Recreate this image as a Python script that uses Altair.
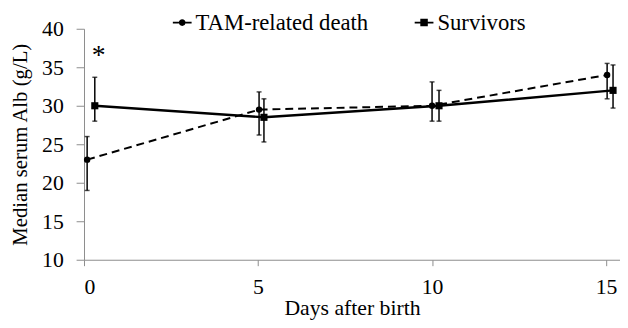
import altair as alt
import pandas as pd

# Data
series_names = ["TAM-related death", "Survivors"]
tam_x = [0.09, 5.03, 10.0, 15.03]
tam_y = [23.0, 29.5, 30.0, 34.0]
tam_lo = [19.0, 26.2, 28.0, 30.9]
tam_hi = [26.0, 31.8, 33.1, 35.5]
surv_x = [0.31, 5.17, 10.2, 15.2]
surv_y = [30.0, 28.5, 30.0, 32.0]
surv_lo = [28.0, 25.3, 28.0, 29.7]
surv_hi = [33.7, 30.9, 32.0, 35.3]
x_ticks = [0, 5, 10, 15]
y_ticks = [10, 15, 20, 25, 30, 35, 40]
star_x = [0.42]
star_y = [36.5]
star_text = ["*"]

FONT = "Liberation Serif, Times New Roman, serif"

rows = []
for name, xs, ys, los, his in [
    (series_names[0], tam_x, tam_y, tam_lo, tam_hi),
    (series_names[1], surv_x, surv_y, surv_lo, surv_hi),
]:
    for x, y, lo, hi in zip(xs, ys, los, his):
        rows.append({"series": name, "day": x, "alb": y, "lo": lo, "hi": hi})
df = pd.DataFrame(rows)
tam_df = df[df.series == series_names[0]]
surv_df = df[df.series == series_names[1]]
star_df = pd.DataFrame({"day": star_x, "alb": star_y, "t": star_text})

xscale = alt.Scale(domain=[0, 15.4], nice=False, zero=False)
yscale = alt.Scale(domain=[10, 40], nice=False, zero=False)

xax = alt.Axis(values=x_ticks, title="Days after birth", grid=False, labelOverlap=False,
               domainColor="#8c8c8c", tickColor="#8c8c8c", tickSize=6,
               labelFont=FONT, labelFontSize=22, labelColor="black", labelPadding=11,
               titleFont=FONT, titleFontSize=22, titleFontWeight="normal",
               titleColor="black", titlePadding=0)
yax = alt.Axis(values=y_ticks, title="Median serum Alb (g/L)", grid=False, labelOverlap=False,
               domainColor="#8c8c8c", tickColor="#8c8c8c", tickSize=8,
               labelFont=FONT, labelFontSize=22, labelColor="black", labelPadding=13,
               titleFont=FONT, titleFontSize=21, titleFontWeight="normal",
               titleColor="black", titlePadding=11)


def X(field):
    return alt.X(f"{field}:Q", scale=xscale, axis=xax)


def Y(field):
    return alt.Y(f"{field}:Q", scale=yscale, axis=yax)


tam_line = alt.Chart(tam_df).mark_line(color="black", strokeWidth=2, strokeDash=[8, 5]).encode(
    x=X("day"), y=Y("alb"))
surv_line = alt.Chart(surv_df).mark_line(color="black", strokeWidth=2.5).encode(
    x=X("day"), y=Y("alb"))

err_rule = alt.Chart(df).mark_rule(color="black", strokeWidth=1.5).encode(
    x=X("day"), y=Y("lo"), y2="hi:Q")
cap_lo = alt.Chart(df).mark_tick(color="black", orient="horizontal", size=5, thickness=1.5).encode(
    x=X("day"), y=Y("lo"))
cap_hi = alt.Chart(df).mark_tick(color="black", orient="horizontal", size=5, thickness=1.5).encode(
    x=X("day"), y=Y("hi"))

tam_pts = alt.Chart(tam_df).mark_point(shape="circle", filled=True, color="black", size=42, opacity=1).encode(
    x=X("day"), y=Y("alb"))
surv_pts = alt.Chart(surv_df).mark_point(shape="square", filled=True, color="black", size=52, opacity=1).encode(
    x=X("day"), y=Y("alb"))

star = alt.Chart(star_df).mark_text(font=FONT, fontSize=28, color="black", baseline="middle").encode(
    x=X("day"), y=Y("alb"), text="t:N")

# legend glyphs: short line segments on both sides of the marker (filled shapes)
circle_path = ("M-1,-0.1H-0.35V0.1H-1Z M0.35,-0.1H1V0.1H0.35Z "
               "M-0.36,0A0.36,0.36 0 1,0 0.36,0A0.36,0.36 0 1,0 -0.36,0Z")
square_path = ("M-1,-0.1H-0.4V0.1H-1Z M0.4,-0.1H1V0.1H0.4Z "
               "M-0.4,-0.4H0.4V0.4H-0.4Z")

legend_layer = alt.Chart(df).transform_filter("false").mark_point(
    filled=True, fill="black", opacity=1).encode(
    x=X("day"), y=Y("alb"),
    shape=alt.Shape("series:N",
                    scale=alt.Scale(domain=series_names, range=[circle_path, square_path]),
                    legend=alt.Legend(title=None, orient="none", direction="horizontal",
                                      legendX=88, legendY=-18,
                                      symbolSize=361,
                                      symbolFillColor="black", symbolOpacity=1,
                                      labelFont=FONT, labelFontSize=23, labelColor="black",
                                      labelOffset=2, columnPadding=43,
                                      labelLimit=300)))

chart = alt.layer(tam_line, surv_line, err_rule, cap_lo, cap_hi, tam_pts, surv_pts, star, legend_layer).properties(
    width=543, height=234,
    autosize=alt.AutoSizeParams(type="none"),
    padding={"left": 77, "top": 19, "right": 0, "bottom": 59},
    background="white",
).configure_view(stroke=None)

chart.save("out.html", embed_options={"renderer": "svg", "actions": False})
